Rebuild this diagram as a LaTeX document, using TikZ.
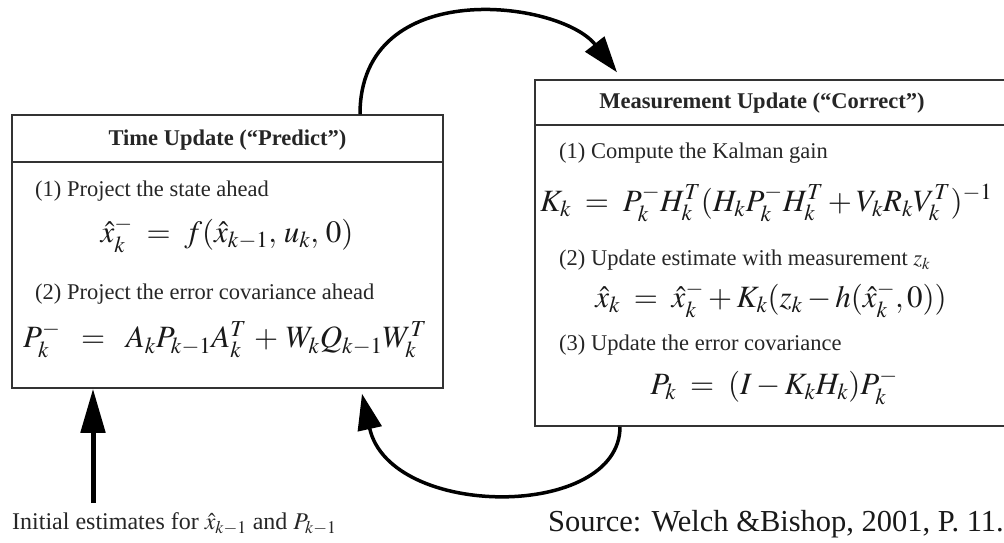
\documentclass[tikz,border=0pt]{standalone}
\usepackage{mathptmx}
\usepackage{fontspec}
\setmainfont{Liberation Serif}
\usetikzlibrary{arrows.meta}
\tikzset{
  box/.style={draw=black!80, line width=1.5pt, fill=white},
  hdr/.style={font=\fontsize{22.5}{26}\selectfont\bfseries, text=black!85},
  item/.style={font=\fontsize{22.5}{26}\selectfont, text=black!85, anchor=west, inner sep=0pt},
  eqn/.style={font=\fontsize{31}{36}\selectfont, text=black!90, inner sep=0pt},
  loop/.style={line width=3.5pt, -{Triangle[length=36pt,width=24pt]}},
  initarrow/.style={line width=5pt, -{Triangle[length=44pt,width=24pt]}},
}
\begin{document}
\begin{tikzpicture}[x=1pt,y=-1pt]
\clip (0,0) rectangle (1004,542);
\fill[white] (0,0) rectangle (1004,542);
% boxes
\node[box, minimum width=431pt, minimum height=273pt, inner sep=0pt] (tu) at (227.5,251.5) {};
\node[box, minimum width=480pt, minimum height=346pt, inner sep=0pt] (mu) at (775,253) {};
\draw[draw=black!80, line width=1.5pt] (tu.west |- 0,162) -- (tu.east |- 0,162);
\draw[draw=black!80, line width=1.5pt] (mu.west |- 0,125) -- (mu.east |- 0,125);
% left box text
\node[hdr] (tuh) at (227.5,140) {Time Update (“Predict”)};
\node[item] (tu1) at (35,191) {(1) Project the state ahead};
\node[eqn] (tue1) at (227,235) {$\hat{x}_k^- \;=\; f(\hat{x}_{k-1},\, u_k,\, 0)$};
\node[item] (tu2) at (35,294) {(2) Project the error covariance ahead};
\node[eqn] (tue2) at (225,340) {$P_k^- \;\;=\;\; A_k P_{k-1} A_k^T \,+\, W_k Q_{k-1} W_k^T$};
% right box text
\node[hdr] (muh) at (762,103) {Measurement Update (“Correct”)};
\node[item] (mu1) at (559,153) {(1) Compute the Kalman gain};
\node[eqn, anchor=west] (mue1) at (540,203) {$K_k \;=\; P_k^- H_k^T(H_k P_k^- H_k^T + V_k R_k V_k^T)^{-1}$};
\node[item] (mu2) at (559,260) {(2) Update estimate with measurement $z_k$};
\node[eqn] (mue2) at (771,300) {$\hat{x}_k \;=\; \hat{x}_k^- + K_k(z_k - h(\hat{x}_k^-, 0))$};
\node[item] (mu3) at (559,345) {(3) Update the error covariance};
\node[eqn] (mue3) at (774,387) {$P_k \;=\; (I - K_k H_k) P_k^-$};
% bottom texts
\node[font=\fontsize{24}{28}\selectfont, text=black!85, anchor=west, inner sep=0pt] (init) at (12,524) {Initial estimates for $\hat{x}_{k-1}$ and $P_{k-1}$};
\node[font=\fontsize{30.5}{35}\selectfont, text=black!90, anchor=west, inner sep=0pt] (src) at (548,524) {Source: Welch \&Bishop, 2001, P. 11.};
% connectors
\coordinate (i0) at (93,503);
\draw[initarrow] (i0) -- ([xshift=-134.5pt]tu.south);
\draw[loop] ([xshift=132.5pt]tu.north) .. controls (360,-25) and (560,0) .. ([xshift=-158pt,yshift=7pt]mu.north);
\draw[loop] ([xshift=-155pt]mu.south) .. controls (620,520) and (390,520) .. ([xshift=134.5pt,yshift=-5pt]tu.south);
\end{tikzpicture}
\end{document}
